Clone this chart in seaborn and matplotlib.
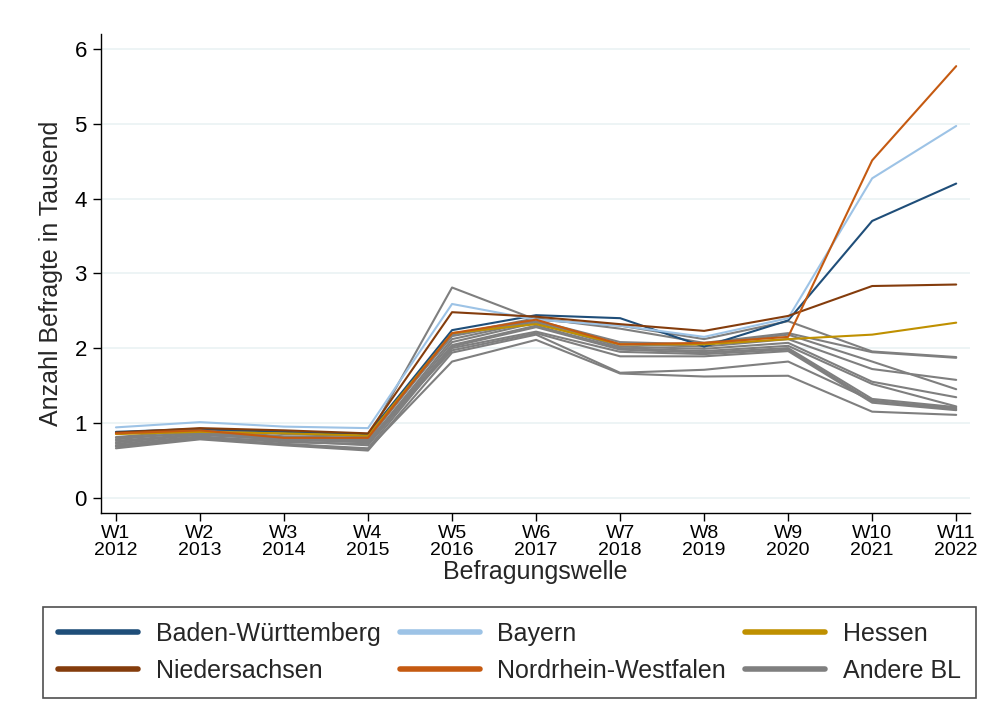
import matplotlib
matplotlib.use("Agg")
import matplotlib.pyplot as plt
from matplotlib.lines import Line2D
import seaborn as sns
import pandas as pd

# Befragungswellen
wellen = ["W1\n2012", "W2\n2013", "W3\n2014", "W4\n2015", "W5\n2016", "W6\n2017",
          "W7\n2018", "W8\n2019", "W9\n2020", "W10\n2021", "W11\n2022"]

# hervorgehobene Bundeslaender (Befragte in Tausend)
bw = [0.88, 0.92, 0.88, 0.85, 2.24, 2.44, 2.40, 2.02, 2.37, 3.70, 4.20]
bayern = [0.94, 1.01, 0.95, 0.93, 2.59, 2.38, 2.30, 2.15, 2.40, 4.27, 4.97]
hessen = [0.85, 0.88, 0.86, 0.83, 2.20, 2.32, 2.05, 2.05, 2.12, 2.18, 2.34]
niedersachsen = [0.87, 0.93, 0.90, 0.86, 2.48, 2.42, 2.32, 2.23, 2.43, 2.83, 2.85]
nrw = [0.86, 0.90, 0.80, 0.80, 2.20, 2.38, 2.05, 2.07, 2.15, 4.51, 5.77]

# andere Bundeslaender
andere = [
    [0.81, 0.90, 0.82, 0.80, 2.81, 2.38, 2.30, 2.12, 2.36, 1.955, 1.88],
    [0.78, 0.88, 0.80, 0.78, 2.18, 2.40, 2.26, 2.07, 2.20, 1.945, 1.87],
    [0.86, 0.92, 0.85, 0.82, 2.16, 2.37, 2.08, 2.05, 2.18, 1.82, 1.45],
    [0.74, 0.84, 0.78, 0.74, 2.12, 2.36, 2.05, 2.02, 2.12, 1.72, 1.575],
    [0.72, 0.82, 0.74, 0.72, 2.08, 2.34, 2.02, 1.99, 2.07, 1.55, 1.343],
    [0.70, 0.80, 0.76, 0.70, 2.04, 2.30, 2.00, 1.96, 2.03, 1.52, 1.22],
    [0.68, 0.79, 0.72, 0.66, 2.02, 2.28, 1.98, 1.94, 2.00, 1.32, 1.21],
    [0.80, 0.86, 0.79, 0.76, 2.00, 2.22, 1.95, 1.92, 1.98, 1.29, 1.195],
    [0.76, 0.85, 0.77, 0.75, 1.97, 2.20, 1.89, 1.89, 1.96, 1.27, 1.17],
    [0.66, 0.78, 0.70, 0.63, 1.94, 2.18, 1.67, 1.71, 1.82, 1.30, 1.18],
    [0.69, 0.80, 0.71, 0.65, 1.82, 2.11, 1.66, 1.62, 1.63, 1.15, 1.107],
]

laender = ["Baden-Württemberg", "Bayern", "Hessen", "Niedersachsen", "Nordrhein-Westfalen"]
farben = ["#1F4E79", "#9DC3E6", "#BF9000", "#843C0C", "#C55A11"]
grau = "#7F7F7F"

rows = []
for name, werte in zip(laender, [bw, bayern, hessen, niedersachsen, nrw]):
    for i, v in enumerate(werte):
        rows.append({"welle": i, "wert": v, "land": name})
df = pd.DataFrame(rows)

rows_g = []
for k, werte in enumerate(andere):
    for i, v in enumerate(werte):
        rows_g.append({"welle": i, "wert": v, "land": f"BL{k}"})
df_g = pd.DataFrame(rows_g)

sns.set_theme(style="white")
plt.rcParams["font.family"] = ["Liberation Sans", "DejaVu Sans"]

fig = plt.figure(figsize=(9.85, 7.2), dpi=100)
ax = fig.add_axes([0.1022, 0.2875, 0.8828, 0.6653])

sns.lineplot(data=df_g, x="welle", y="wert", units="land", estimator=None,
             color=grau, linewidth=1.5, ax=ax, legend=False)
sns.lineplot(data=df, x="welle", y="wert", hue="land", hue_order=laender,
             palette=farben, estimator=None, linewidth=1.5, ax=ax, legend=False)

ax.set_xlim(-0.182, 10.167)
ax.set_ylim(-0.205, 6.2)
ax.set_yticks(range(0, 7))
ax.set_xticks(range(len(wellen)))
ax.set_xticklabels(wellen, linespacing=0.95)
ax.grid(axis="y", color="#EAF2F3", linewidth=1.2)
ax.set_axisbelow(True)
for s in ["top", "right"]:
    ax.spines[s].set_visible(False)
for s in ["left", "bottom"]:
    ax.spines[s].set_color("black")
    ax.spines[s].set_linewidth(1.0)
ax.tick_params(axis="both", which="both", direction="out", length=6, width=1,
               color="black", labelsize=14, labelcolor="black", bottom=True, left=True)
ax.tick_params(axis="y", pad=4, labelsize=16)
ax.tick_params(axis="x", pad=3)
ax.set_xlabel("Befragungswelle", fontsize=18, labelpad=1)
ax.set_ylabel("Anzahl Befragte in Tausend", fontsize=18, labelpad=8)

handles = [Line2D([0], [0], color=c, linewidth=4) for c in farben]
handles.append(Line2D([0], [0], color=grau, linewidth=4))
labels = laender + ["Andere BL"]
# Reihenfolge zeilenweise: BW, Bayern, Hessen / Nieders., NRW, Andere
order = [0, 3, 1, 4, 2, 5]
leg = fig.legend([handles[i] for i in order], [labels[i] for i in order],
                 ncol=3, loc="center", bbox_to_anchor=(0.0437, 0.032, 0.947, 0.124),
                 mode="expand", frameon=True, fancybox=False, fontsize=18,
                 handlelength=3.2, handletextpad=0.7, borderaxespad=0,
                 borderpad=0.6, labelspacing=0.5, columnspacing=1.0)
leg.get_frame().set_edgecolor("#222222")
leg.get_frame().set_linewidth(1.2)

fig.savefig("out.png", dpi=100, facecolor="white")
